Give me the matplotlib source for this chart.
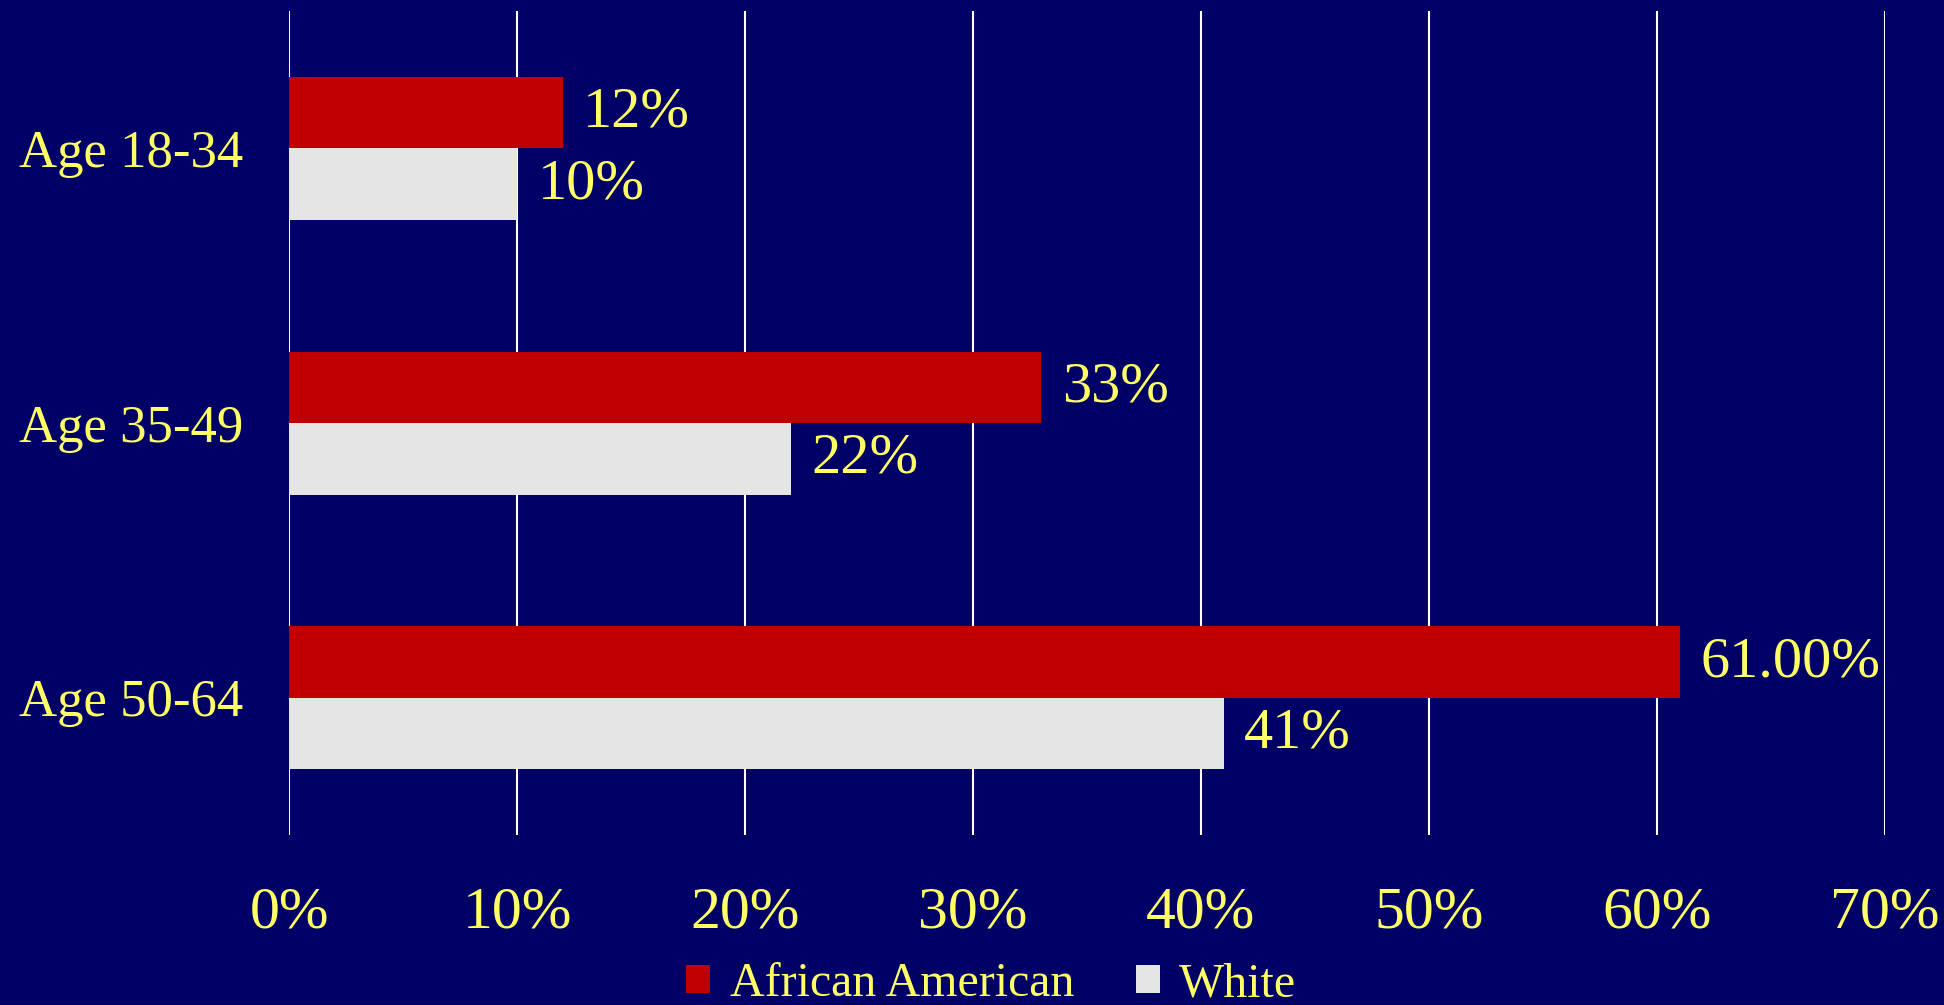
import matplotlib.pyplot as plt
import numpy as np

categories = ['Age 18-34', 'Age 35-49', 'Age 50-64']
african_american = [12, 33, 61]
white = [10, 22, 41]
aa_labels = ['12%', '33%', '61.00%']
white_labels = ['10%', '22%', '41%']
xticks = [0, 10, 20, 30, 40, 50, 60, 70]

bg = '#000066'
red = '#C00000'
grey = '#E5E5E5'
yellow = '#FFFF66'

plt.rcParams['font.family'] = ['Liberation Serif', 'DejaVu Serif']

fig = plt.figure(figsize=(19.44, 10.05), dpi=100, facecolor=bg)
ax = fig.add_axes([0.1487, 0.169, 0.8209, 0.820])
ax.set_facecolor(bg)

y = np.arange(len(categories))
h = 0.26
ax.barh(y - h / 2, african_american, height=h, color=red, label='African American', zorder=3)
ax.barh(y + h / 2, white, height=h, color=grey, label='White', zorder=3)

# подписи значений
for yi, v, s in zip(y, african_american, aa_labels):
    ax.text(v + 0.9, yi - h / 2, s, color=yellow, fontsize=42, va='center', ha='left')
for yi, v, s in zip(y, white, white_labels):
    ax.text(v + 0.9, yi + h / 2, s, color=yellow, fontsize=42, va='center', ha='left')

ax.set_xlim(0, 70)
ax.set_ylim(2.5, -0.5)
ax.set_xticks(xticks)
ax.set_xticklabels([f'{t}%' for t in xticks])
ax.set_yticks(y)
ax.set_yticklabels(categories)
ax.tick_params(axis='x', colors=yellow, labelsize=43, length=0, pad=37)
ax.tick_params(axis='y', colors=yellow, labelsize=38, length=0, pad=33)
ax.grid(axis='x', color='white', linewidth=1.5, zorder=0)
for s in ax.spines.values():
    s.set_visible(False)

leg = fig.legend(loc='lower center', bbox_to_anchor=(0.51, -0.044), ncol=2, frameon=False,
                 fontsize=34.5, labelcolor=yellow, handlelength=0.5, handleheight=0.5,
                 handletextpad=0.4, columnspacing=1.3)

plt.savefig('out.png', facecolor=bg)
